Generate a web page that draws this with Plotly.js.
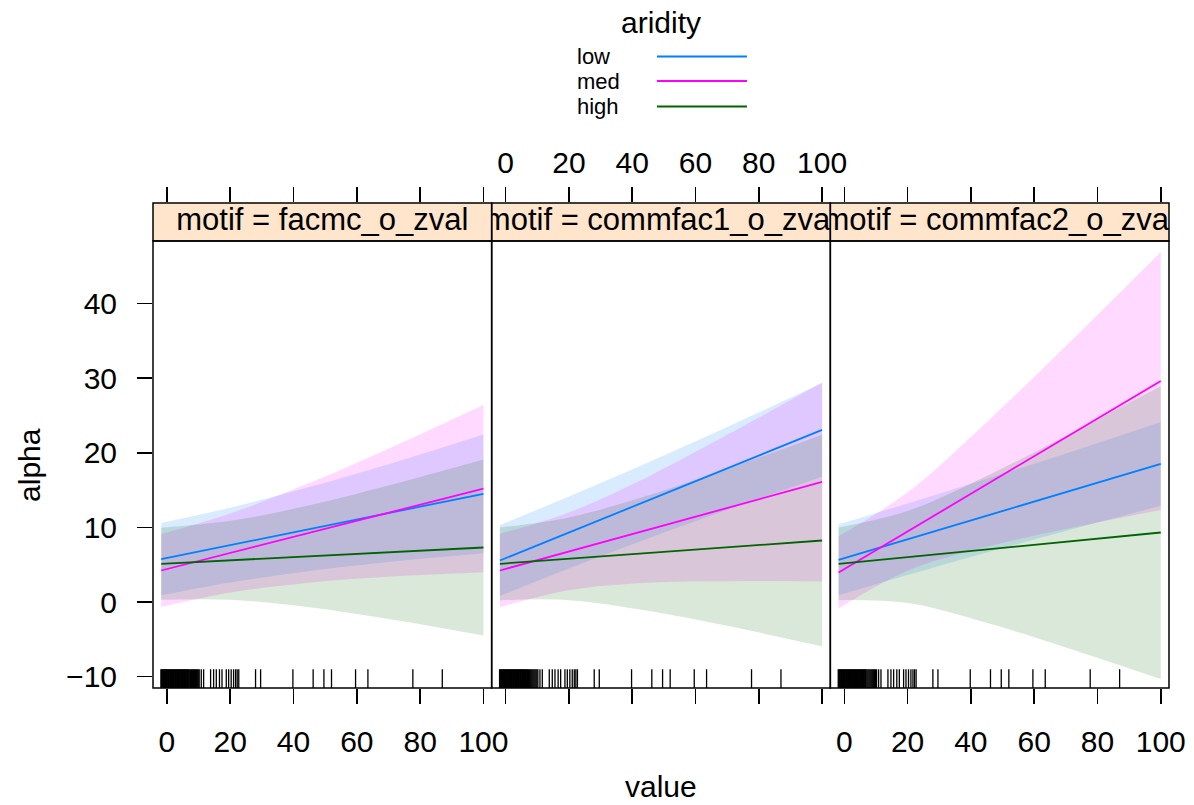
<!DOCTYPE html>
<html>
<head>
<meta charset="utf-8">
<script src="https://cdn.plot.ly/plotly-3.0.1.min.js"></script>
<style>html,body{margin:0;padding:0;background:#fff;}#chart{width:1194px;height:805px;}</style>
</head>
<body>
<div id="chart"></div>
<script>
// ---- data ----
const motifs = ['facmc_o_zval', 'commfac1_o_zval', 'commfac2_o_zval'];
const aridityLevels = ['low', 'med', 'high'];
const valueGrid = [-1.8, 20, 45, 70, 100];
const xTicks = [0, 20, 40, 60, 80, 100];
const yTicks = [-10, 0, 10, 20, 30, 40];

// panel 1: facmc_o_zval
const facmc_low_fit   = [5.76, 7.63, 9.78, 11.92, 14.5];
const facmc_low_lower = [0.91, 2.62, 4.16, 5.37, 6.55];
const facmc_low_upper = [10.61, 12.64, 15.40, 18.47, 22.45];
const facmc_med_fit   = [4.23, 6.58, 9.27, 11.97, 15.2];
const facmc_med_lower = [-0.67, 1.28, 2.60, 3.39, 4.0];
const facmc_med_upper = [9.13, 11.88, 15.94, 20.55, 26.4];
const facmc_high_fit   = [5.13, 5.60, 6.13, 6.67, 7.31];
const facmc_high_lower = [0.31, 0.32, -0.70, -2.28, -4.49];
const facmc_high_upper = [9.95, 10.88, 12.96, 15.62, 19.11];

// panel 2: commfac1_o_zval
const comm1_low_fit   = [5.57, 9.32, 13.61, 17.91, 23.07];
const comm1_low_lower = [0.82, 4.50, 8.51, 12.36, 16.79];
const comm1_low_upper = [10.32, 14.14, 18.71, 23.46, 29.35];
const comm1_med_fit   = [4.23, 6.77, 9.69, 12.60, 16.1];
const comm1_med_lower = [-0.68, 1.6, 2.6, 2.8, 2.77];
const comm1_med_upper = [9.14, 12.0, 16.8, 22.4, 29.43];
const comm1_high_fit   = [5.13, 5.80, 6.56, 7.33, 8.25];
const comm1_high_lower = [0.26, 0.26, -1.16, -3.18, -5.92];
const comm1_high_upper = [10.0, 11.34, 14.28, 17.84, 22.42];

// panel 3: commfac2_o_zval
const comm2_low_fit   = [5.66, 8.41, 11.57, 14.72, 18.51];
const comm2_low_lower = [0.91, 3.62, 6.63, 9.53, 12.89];
const comm2_low_upper = [10.41, 13.20, 16.51, 19.91, 24.13];
const comm2_med_fit   = [3.97, 9.46, 15.76, 22.06, 29.62];
const comm2_med_lower = [-0.87, 4.2, 7.4, 9.8, 12.35];
const comm2_med_upper = [8.81, 14.7, 24.1, 34.3, 46.89];
const comm2_high_fit   = [5.13, 6.03, 7.06, 8.09, 9.32];
const comm2_high_lower = [0.26, -0.14, -2.78, -6.08, -10.31];
const comm2_high_upper = [10.0, 12.20, 16.90, 22.26, 28.95];

// rug of observed values
const rugValues = [-1.9,-1.7,-1.5,-1.3,-1.1,-0.9,-0.7,-0.5,-0.3,-0.1,0.1,0.3,0.5,0.7,0.9,1.1,1.3,1.5,1.7,1.9,
  2.1,2.3,2.5,2.7,2.9,3.1,3.3,3.5,3.7,3.9,4.1,4.3,4.5,4.7,4.9,5.1,5.3,5.5,5.7,5.9,6.1,6.3,6.5,6.7,6.9,
  7.2,7.5,7.8,8.1,8.4,8.7,9.0,9.3,9.6,9.9,10.2,10.85,11.6,13.8,14.75,15.6,16.6,17.4,18.75,19.5,20.3,
  21.06,21.7,22.2,22.7,28.0,29.6,39.8,46.2,49.6,52.0,59.6,63.5,77.7,87.0];

// ---- styling ----
const lineColors = ['#0080ff', '#ff00ff', '#006400'];
const fillColors = ['rgba(0,128,255,0.15)', 'rgba(255,0,255,0.15)', 'rgba(0,100,0,0.15)'];
const FONT = '"Liberation Sans", Arial, Helvetica, sans-serif';
const XR = [-4.4, 102.6];
const YR = [-11.51, 48.37];
const D = 447 / 485;

const panels = [
  {fit: [facmc_low_fit, facmc_med_fit, facmc_high_fit], lo: [facmc_low_lower, facmc_med_lower, facmc_high_lower], hi: [facmc_low_upper, facmc_med_upper, facmc_high_upper]},
  {fit: [comm1_low_fit, comm1_med_fit, comm1_high_fit], lo: [comm1_low_lower, comm1_med_lower, comm1_high_lower], hi: [comm1_low_upper, comm1_med_upper, comm1_high_upper]},
  {fit: [comm2_low_fit, comm2_med_fit, comm2_high_fit], lo: [comm2_low_lower, comm2_med_lower, comm2_high_lower], hi: [comm2_low_upper, comm2_med_upper, comm2_high_upper]}
];

const traces = [];
panels.forEach((p, i) => {
  const xa = i === 0 ? 'x' : 'x' + (i + 1);
  for (let k = 0; k < 3; k++) {
    traces.push({type: 'scatter', mode: 'lines', x: valueGrid, y: p.lo[k], xaxis: xa, yaxis: 'y',
      line: {width: 0, shape: 'spline', color: fillColors[k]}, hoverinfo: 'skip', showlegend: false});
    traces.push({type: 'scatter', mode: 'lines', x: valueGrid, y: p.hi[k], xaxis: xa, yaxis: 'y',
      line: {width: 0, shape: 'spline', color: fillColors[k]}, fill: 'tonexty', fillcolor: fillColors[k],
      hoverinfo: 'skip', showlegend: false});
  }
  for (let k = 0; k < 3; k++) {
    traces.push({type: 'scatter', mode: 'lines', x: valueGrid, y: p.fit[k], xaxis: xa, yaxis: 'y',
      line: {width: 1.8, color: lineColors[k]}, name: aridityLevels[k], showlegend: false});
  }
  // strip label, clipped to strip subplot
  traces.push({type: 'scatter', mode: 'text', x: [(XR[0] + XR[1]) / 2], y: [0.5],
    xaxis: 'x' + (i + 4), yaxis: 'y2', text: ['motif = ' + motifs[i]], textposition: 'middle center',
    textfont: {family: FONT, size: 31, color: 'black'}, cliponaxis: true, hoverinfo: 'skip', showlegend: false});
});

const baseX = {range: XR, tickvals: xTicks, ticks: 'outside', ticklen: 15, tickwidth: 1.5, tickcolor: 'black',
  showgrid: false, zeroline: false, showline: false, tickfont: {family: FONT, size: 30, color: 'black'}, fixedrange: true};

const layout = {
  width: 1194, height: 805,
  margin: {l: 153, r: 25, t: 203, b: 117, pad: 0},
  paper_bgcolor: 'white', plot_bgcolor: 'rgba(0,0,0,0)',
  font: {family: FONT, size: 30, color: 'black'},
  showlegend: false,
  xaxis:  Object.assign({}, baseX, {domain: [0, 1/3], anchor: 'y', showticklabels: true, ticklabelstandoff: 12}),
  xaxis2: Object.assign({}, baseX, {domain: [1/3, 2/3], anchor: 'y', showticklabels: false}),
  xaxis3: Object.assign({}, baseX, {domain: [2/3, 1], anchor: 'y', showticklabels: true, ticklabelstandoff: 12}),
  xaxis4: Object.assign({}, baseX, {domain: [0, 1/3], anchor: 'y2', side: 'top', showticklabels: false}),
  xaxis5: Object.assign({}, baseX, {domain: [1/3, 2/3], anchor: 'y2', side: 'top', showticklabels: true, ticklabelstandoff: 2}),
  xaxis6: Object.assign({}, baseX, {domain: [2/3, 1], anchor: 'y2', side: 'top', showticklabels: false}),
  yaxis: {domain: [0, D], range: YR, anchor: 'x', tickvals: yTicks, ticks: 'outside', ticklen: 15, tickwidth: 1.5,
    tickcolor: 'black', showgrid: false, zeroline: false, showline: false, ticklabelstandoff: 14,
    tickfont: {family: FONT, size: 30, color: 'black'}, fixedrange: true},
  yaxis2: {domain: [D, 1], range: [0, 1], anchor: 'x4', visible: false, fixedrange: true},
  yaxis3: {domain: [0, D], range: YR, overlaying: 'y', anchor: 'x3', side: 'right', tickvals: yTicks, ticks: 'outside',
    ticklen: 15, tickwidth: 1.5, tickcolor: 'black', showticklabels: false, showgrid: false, zeroline: false, showline: false, fixedrange: true},
  shapes: [],
  annotations: [
    {text: 'value', xref: 'paper', yref: 'paper', x: 0.5, y: -0.204, showarrow: false, xanchor: 'center', yanchor: 'middle', font: {family: FONT, size: 30}},
    {text: 'alpha', xref: 'paper', yref: 'paper', x: -0.121, y: 0.46, showarrow: false, textangle: -90, xanchor: 'center', yanchor: 'middle', font: {family: FONT, size: 30}},
    {text: 'aridity', xref: 'paper', yref: 'paper', x: 0.5, y: 1.373, showarrow: false, xanchor: 'center', yanchor: 'middle', font: {family: FONT, size: 30}}
  ]
};

// strips and panel frames
for (let i = 0; i < 3; i++) {
  layout.shapes.push({type: 'rect', xref: 'paper', yref: 'paper', x0: i / 3, x1: (i + 1) / 3, y0: D, y1: 1,
    fillcolor: '#ffe5cc', line: {width: 0}, layer: 'below'});
  layout.shapes.push({type: 'rect', xref: 'paper', yref: 'paper', x0: i / 3, x1: (i + 1) / 3, y0: D, y1: 1,
    line: {color: 'black', width: 1.5}, layer: 'above'});
  layout.shapes.push({type: 'rect', xref: 'paper', yref: 'paper', x0: i / 3, x1: (i + 1) / 3, y0: 0, y1: D,
    line: {color: 'black', width: 1.5}, layer: 'above'});
  const xa = i === 0 ? 'x' : 'x' + (i + 1);
  rugValues.forEach(v => {
    layout.shapes.push({type: 'line', xref: xa, yref: 'y domain', x0: v, x1: v, y0: 0, y1: 0.042,
      line: {color: 'black', width: 1.3}, layer: 'above'});
  });
}

// key (legend) drawn at the top
const keyY = [1.302, 1.2515, 1.199];
aridityLevels.forEach((lev, k) => {
  layout.annotations.push({text: lev, xref: 'paper', yref: 'paper', x: 0.4154, y: keyY[k], showarrow: false,
    xanchor: 'left', yanchor: 'middle', font: {family: FONT, size: 22}});
  layout.shapes.push({type: 'line', xref: 'paper', yref: 'paper', x0: 0.496, x1: 0.5846, y0: keyY[k], y1: keyY[k],
    line: {color: lineColors[k], width: 2}});
});

Plotly.newPlot('chart', traces, layout, {displayModeBar: false, staticPlot: true});
</script>
</body>
</html>
